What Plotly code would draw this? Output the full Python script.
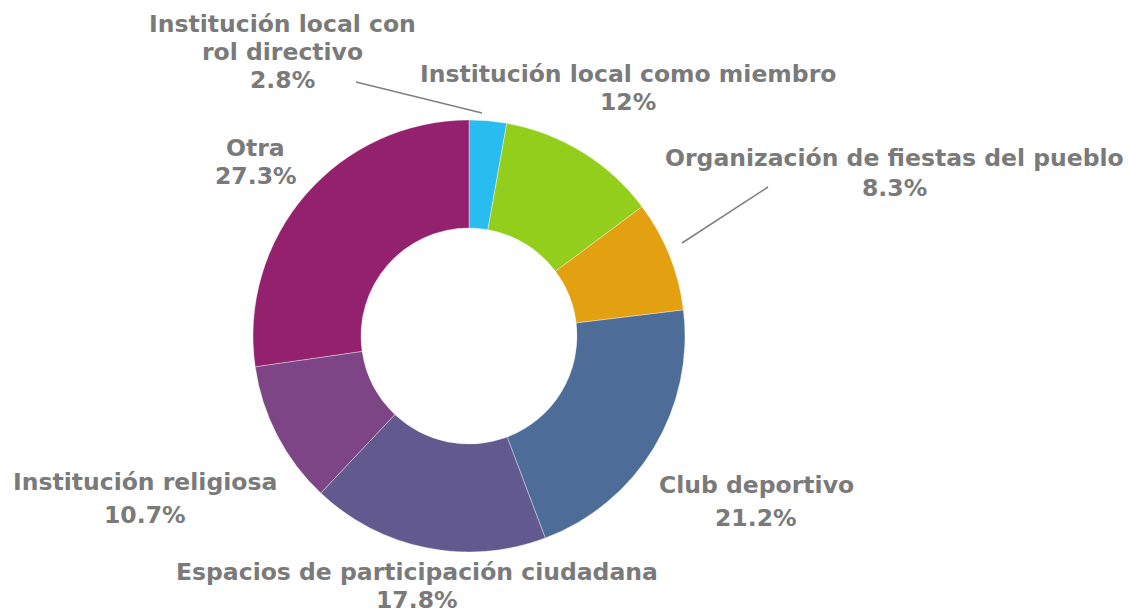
import plotly.graph_objects as go

categories = [
    "Institución local con rol directivo",
    "Institución local como miembro",
    "Organización de fiestas del pueblo",
    "Club deportivo",
    "Espacios de participación ciudadana",
    "Institución religiosa",
    "Otra",
]
values = [2.8, 12, 8.3, 21.2, 17.8, 10.7, 27.3]
value_labels = ["2.8%", "12%", "8.3%", "21.2%", "17.8%", "10.7%", "27.3%"]
label_lines = [
    ["Institución local con", "rol directivo"],
    ["Institución local como miembro"],
    ["Organización de fiestas del pueblo"],
    ["Club deportivo"],
    ["Espacios de participación ciudadana"],
    ["Institución religiosa"],
    ["Otra"],
]
colors = ["#29BCEF", "#94CE1C", "#E3A010", "#4E6C98", "#62598F", "#7D4486", "#93216E"]

OFF = 8  # page body margin
W, H = 1144 - OFF, 614 - OFF
cx, cy, r = 469 - OFF, 336 - OFF, 216

fig = go.Figure(go.Pie(
    labels=categories,
    values=values,
    sort=False,
    direction="clockwise",
    rotation=0,
    hole=0.5,
    marker=dict(colors=colors, line=dict(width=0.6, color="rgba(255,255,255,0.6)")),
    textinfo="none",
    showlegend=False,
    domain=dict(x=[(cx - r) / W, (cx + r) / W], y=[1 - (cy + r) / H, 1 - (cy - r) / H]),
))

# (center x, middle y of each text line) in screen pixels
label_pos = [
    (282, [24, 52, 80]),
    (628, [74, 102]),
    (894, [158, 188]),
    (756, [485, 518]),
    (417, [572, 600]),
    (145, [482, 515]),
    (256, [148, 176]),
]
font = dict(family="DejaVu Sans", size=23.5, color="#7A7A7A", weight="bold")
for lines, val, (px, pys) in zip(label_lines, value_labels, label_pos):
    for txt, py in zip(lines + [val], pys):
        fig.add_annotation(
            x=(px - OFF) / W, y=1 - (py - OFF) / H, xref="paper", yref="paper",
            xanchor="center", yanchor="middle", showarrow=False,
            text=txt, font=font,
        )

leaders = [((356, 82), (482, 113)), ((768, 187), (682, 243))]
for (x0, y0), (x1, y1) in leaders:
    fig.add_shape(type="line", xref="paper", yref="paper",
                  x0=(x0 - OFF) / W, y0=1 - (y0 - OFF) / H,
                  x1=(x1 - OFF) / W, y1=1 - (y1 - OFF) / H,
                  line=dict(color="#7F7F7F", width=1.5))

fig.update_layout(
    width=W, height=H,
    margin=dict(l=0, r=0, t=0, b=0),
    paper_bgcolor="white", plot_bgcolor="white",
)
fig.write_html("out.html")
